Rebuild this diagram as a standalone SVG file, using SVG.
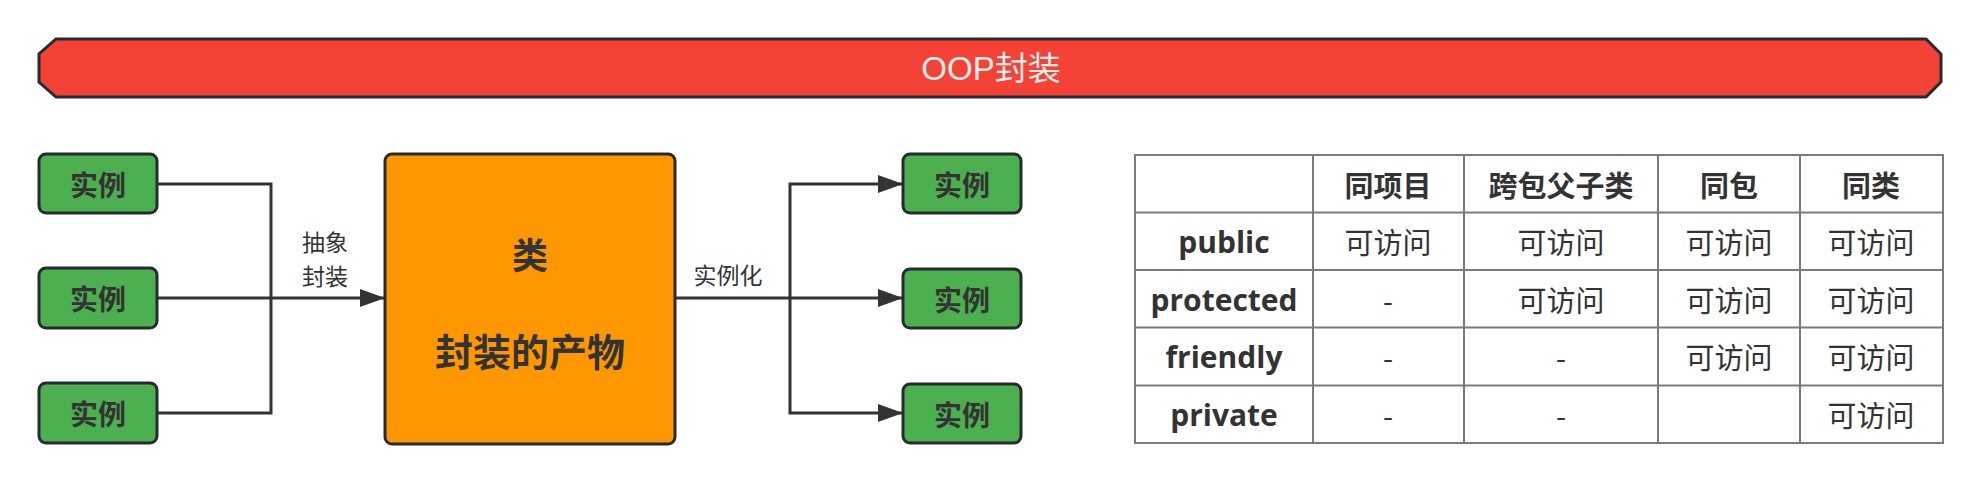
<svg xmlns="http://www.w3.org/2000/svg" width="1985" height="488" viewBox="0 0 1985 488">
<style>
.node{fill:#4caf50;stroke:#262b30;stroke-width:3}
.ntext{font-family:"Noto Sans CJK SC","Liberation Sans",sans-serif;font-weight:bold;font-size:28px;fill:#333;text-anchor:middle;dominant-baseline:central}
.conn{fill:none;stroke:#333;stroke-width:3}
.lbl{font-family:"Noto Sans CJK SC","Liberation Sans",sans-serif;font-size:23px;fill:#333;text-anchor:middle;dominant-baseline:central}
.grid{stroke:#7a7a7a;stroke-width:2;fill:none}
.th{font-family:"Noto Sans CJK SC",sans-serif;font-weight:bold;font-size:29px;fill:#333;text-anchor:middle;dominant-baseline:central}
.rh{font-family:"Open Sans","Noto Sans",sans-serif;font-weight:bold;font-size:30px;fill:#333;text-anchor:middle;dominant-baseline:central}
.td{font-family:"Noto Sans CJK SC",sans-serif;font-size:29px;fill:#333;text-anchor:middle;dominant-baseline:central}
</style>
<defs>
<marker id="arr" markerUnits="userSpaceOnUse" markerWidth="26" markerHeight="18" refX="25" refY="9" orient="auto">
<path d="M0,0 L25,9 L0,18 Z" fill="#333"/>
</marker>
</defs>

<g id="banner">
<polygon points="56,39 1926,39 1941,54 1941,82 1926,97 56,97 39,82 39,54" fill="#f44336" stroke="#262b30" stroke-width="3"/>
<text x="991" y="68" font-family="Liberation Sans,'Noto Sans CJK SC',sans-serif" font-size="33" fill="#eeeeee" text-anchor="middle" dominant-baseline="central">OOP封装</text>
</g>

<g id="connectors">
<path class="conn" d="M157,184 H271 V413 H157"/>
<path class="conn" d="M157,298 H385" marker-end="url(#arr)"/>
<path class="conn" d="M675,298 H903" marker-end="url(#arr)"/>
<path class="conn" d="M790,298 V184 H903" marker-end="url(#arr)"/>
<path class="conn" d="M790,298 V413 H903" marker-end="url(#arr)"/>
<text class="lbl" x="325" y="241">抽象</text>
<text class="lbl" x="325" y="275">封装</text>
<text class="lbl" x="728" y="274">实例化</text>
</g>

<g id="in1"><rect class="node" x="39" y="154" width="118" height="59" rx="7"/><text class="ntext" x="98" y="184">实例</text></g>
<g id="in2"><rect class="node" x="39" y="268" width="118" height="60" rx="7"/><text class="ntext" x="98" y="298">实例</text></g>
<g id="in3"><rect class="node" x="39" y="383" width="118" height="60" rx="7"/><text class="ntext" x="98" y="413">实例</text></g>

<g id="cls">
<rect x="385" y="154" width="290" height="290" rx="7" fill="#ff9800" stroke="#262b30" stroke-width="3"/>
<text x="530" y="253" font-family="'Noto Sans CJK SC',sans-serif" font-weight="bold" font-size="36" fill="#333" text-anchor="middle" dominant-baseline="central">类</text>
<text x="530" y="349" font-family="'Noto Sans CJK SC',sans-serif" font-weight="bold" font-size="38" fill="#333" text-anchor="middle" dominant-baseline="central">封装的产物</text>
</g>

<g id="out1"><rect class="node" x="903" y="154" width="118" height="59" rx="7"/><text class="ntext" x="962" y="184">实例</text></g>
<g id="out2"><rect class="node" x="903" y="269" width="118" height="59" rx="7"/><text class="ntext" x="962" y="299">实例</text></g>
<g id="out3"><rect class="node" x="903" y="384" width="118" height="59" rx="7"/><text class="ntext" x="962" y="414">实例</text></g>

<g id="table">
<rect class="grid" x="1135" y="155" width="808" height="288"/>
<path class="grid" d="M1313,155 V443 M1464,155 V443 M1658,155 V443 M1800,155 V443 M1135,212.5 H1943 M1135,270 H1943 M1135,327.5 H1943 M1135,385.5 H1943"/>
<text class="th" x="1388" y="184">同项目</text>
<text class="th" x="1561" y="184">跨包父子类</text>
<text class="th" x="1729" y="184">同包</text>
<text class="th" x="1871" y="184">同类</text>

<text class="rh" x="1224" y="241">public</text>
<text class="td" x="1388" y="241">可访问</text>
<text class="td" x="1561" y="241">可访问</text>
<text class="td" x="1729" y="241">可访问</text>
<text class="td" x="1871" y="241">可访问</text>

<text class="rh" x="1224" y="299">protected</text>
<text class="td" x="1388" y="299">-</text>
<text class="td" x="1561" y="299">可访问</text>
<text class="td" x="1729" y="299">可访问</text>
<text class="td" x="1871" y="299">可访问</text>

<text class="rh" x="1224" y="356">friendly</text>
<text class="td" x="1388" y="356">-</text>
<text class="td" x="1561" y="356">-</text>
<text class="td" x="1729" y="356">可访问</text>
<text class="td" x="1871" y="356">可访问</text>

<text class="rh" x="1224" y="414">private</text>
<text class="td" x="1388" y="414">-</text>
<text class="td" x="1561" y="414">-</text>
<text class="td" x="1871" y="414">可访问</text>
</g>
</svg>
